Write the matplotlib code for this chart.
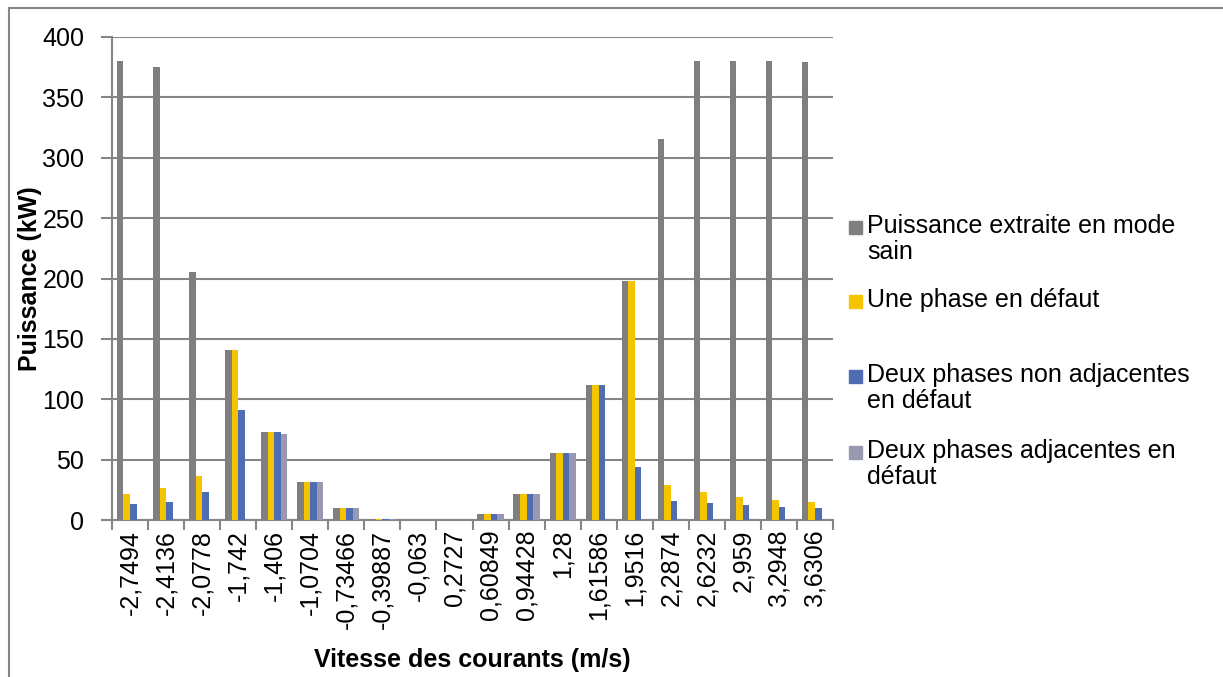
import matplotlib.pyplot as plt
import numpy as np
from matplotlib.patches import Rectangle

plt.rcParams["font.family"] = ["Liberation Sans", "DejaVu Sans"]

# Vitesse des courants (m/s), one group of bars per speed
vitesses = ["-2,7494", "-2,4136", "-2,0778", "-1,742", "-1,406", "-1,0704",
            "-0,73466", "-0,39887", "-0,063", "0,2727", "0,60849", "0,94428",
            "1,28", "1,61586", "1,9516", "2,2874", "2,6232", "2,959",
            "3,2948", "3,6306"]

# Puissance (kW) for each operating mode
sain = [380, 375, 205.3, 140.6, 73.2, 31.8, 9.6, 1.2, 0, 0,
        5.0, 21.5, 55.2, 112, 198.3, 315.7, 380, 380, 380, 379]
une_phase = [21.8, 26.3, 36.5, 140.6, 73.2, 31.8, 9.6, 1.2, 0, 0,
             5.0, 21.5, 55.2, 112, 198.3, 29, 23, 19.3, 16.6, 14.6]
deux_non_adj = [13.5, 15.2, 23.5, 91.2, 73.2, 31.8, 9.6, 1.2, 0, 0,
                5.0, 21.5, 55.2, 112, 44.2, 15.7, 13.8, 12.2, 11, 10.2]
deux_adj = [0, 0, 0, 0, 71, 31.8, 9.6, 1.2, 0, 0,
            5.0, 21.5, 55.2, 0, 0, 0, 0, 0, 0, 0]

series = [sain, une_phase, deux_non_adj, deux_adj]
legend_labels = ["Puissance extraite en mode\nsain",
                 "Une phase en défaut",
                 "Deux phases non adjacentes\nen défaut",
                 "Deux phases adjacentes en\ndéfaut"]
colors = ["#7f7f7f", "#f5c400", "#4f6db2", "#9899b0"]

W, H = 1223, 677
FS = 18
fig = plt.figure(figsize=(W / 100, H / 100), dpi=100)
ax = fig.add_axes([112 / W, 1 - 520 / H, (833 - 112) / W, (520 - 37) / H])

grid_col = "#868686"
n = len(vitesses)
x = np.arange(n)
bw = 1 / 5.5  # gap width 150 %
for i, (vals, col) in enumerate(zip(series, colors)):
    ax.bar(x + (i - 1.5) * bw, vals, width=bw, color=col, zorder=3)

ax.set_xlim(-0.5, n - 0.5)
ax.set_ylim(0, 400)
ax.set_yticks(range(0, 401, 50))
ax.set_xticks(np.arange(n + 1) - 0.5, minor=False)
ax.set_xticklabels([])
ax.set_xticks(x, minor=True)
ax.set_xticklabels(vitesses, minor=True, rotation=90, fontsize=FS)
ax.tick_params(axis="x", which="minor", length=0, pad=7)
ax.tick_params(axis="x", which="major", length=7, width=1.5, color=grid_col)
ax.tick_params(axis="y", length=8, width=1.5, color=grid_col, labelsize=FS, pad=12)

ax.grid(axis="y", color=grid_col, linewidth=1.5, zorder=0)
for side in ["top", "right"]:
    ax.spines[side].set_visible(False)
for side in ["left", "bottom"]:
    ax.spines[side].set_color(grid_col)
    ax.spines[side].set_linewidth(1.5)

ax.set_ylabel("Puissance (kW)", fontsize=FS, fontweight="bold", labelpad=0)
ax.set_xlabel("Vitesse des courants (m/s)", fontsize=FS, fontweight="bold",
              labelpad=14)

# legend drawn to the right of the plot area
legend_y = [228, 302, 377, 453]
for lab, col, yy in zip(legend_labels, colors, legend_y):
    fig.patches.append(Rectangle((849 / W, 1 - (yy + 6) / H), 13 / W, 13 / H,
                                 transform=fig.transFigure, color=col))
    fig.text(867 / W, 1 - (yy - 14) / H, lab, fontsize=FS, va="top",
             ha="left", linespacing=1.12)

# outer chart frame
fig.patches.append(Rectangle((8.5 / W, -0.05), 1.1, 1.05 - 7.5 / H,
                             transform=fig.transFigure, fill=False,
                             edgecolor=grid_col, linewidth=1.5))

fig.savefig("out.png", dpi=100)
